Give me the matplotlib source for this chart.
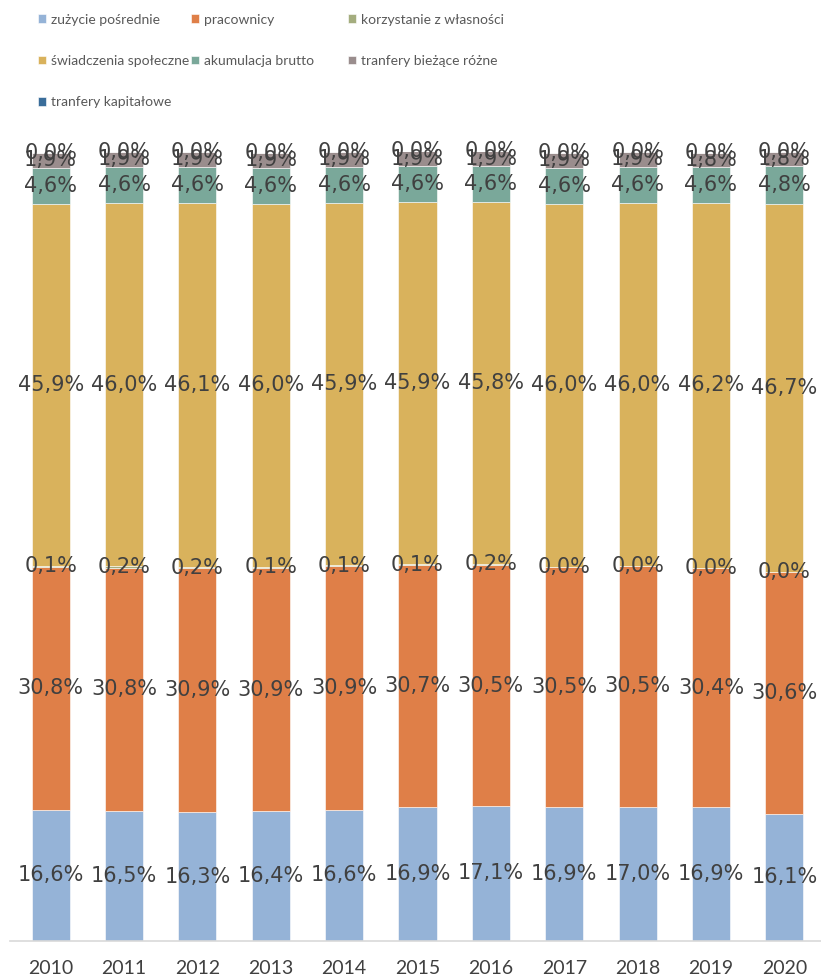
import matplotlib
matplotlib.use("Agg")
import matplotlib.pyplot as plt
import numpy as np

years = ["2010", "2011", "2012", "2013", "2014", "2015", "2016", "2017", "2018", "2019", "2020"]
series_names = ["zużycie pośrednie", "pracownicy", "korzystanie z własności",
                "świadczenia społeczne", "akumulacja brutto", "tranfery bieżące różne",
                "tranfery kapitałowe"]
zuzycie = [16.6, 16.5, 16.3, 16.4, 16.6, 16.9, 17.1, 16.9, 17.0, 16.9, 16.1]
pracownicy = [30.8, 30.8, 30.9, 30.9, 30.9, 30.7, 30.5, 30.5, 30.5, 30.4, 30.6]
korzystanie = [0.1, 0.2, 0.2, 0.1, 0.1, 0.1, 0.2, 0.0, 0.0, 0.0, 0.0]
swiadczenia = [45.9, 46.0, 46.1, 46.0, 45.9, 45.9, 45.8, 46.0, 46.0, 46.2, 46.7]
akumulacja = [4.6, 4.6, 4.6, 4.6, 4.6, 4.6, 4.6, 4.6, 4.6, 4.6, 4.8]
biezace = [1.9, 1.9, 1.9, 1.9, 1.9, 1.9, 1.9, 1.9, 1.9, 1.8, 1.8]
kapitalowe = [0.0, 0.0, 0.0, 0.0, 0.0, 0.0, 0.0, 0.0, 0.0, 0.0, 0.0]
colors = ["#95B3D7", "#DF7F48", "#A4AD7E", "#D9B25C", "#7AA89A", "#9A8D8D", "#3A6D9A"]

all_series = [zuzycie, pracownicy, korzystanie, swiadczenia, akumulacja, biezace, kapitalowe]

plt.rcParams['font.family'] = ['Lato', 'DejaVu Sans']
fig = plt.figure(figsize=(8.21, 9.8), dpi=100)
ax = fig.add_axes([0.017, 0.04, 0.983, 0.805])

x = np.arange(len(years))
bottom = np.zeros(len(years))
handles = []
for name, vals, c in zip(series_names, all_series, colors):
    v = np.array(vals)
    b = ax.bar(x, v, 0.52, bottom=bottom, color=c, edgecolor="white", linewidth=0.4, label=name)
    handles.append(b)
    for xi, (bi, vi) in enumerate(zip(bottom, v)):
        ax.text(xi, bi + vi / 2, f"{vi:.1f}%".replace(".", ","), ha="center", va="center",
                fontsize=15, color="#404040", family=["DejaVu Sans"])
    bottom += v

ax.set_xlim(-0.5, len(years) - 0.5)
ax.set_ylim(0, 100)
ax.set_xticks(x)
ax.set_xticklabels(years, fontsize=14, color="#404040")
ax.tick_params(axis="x", length=0, pad=14)
ax.set_yticks([])
for s in ["top", "right", "left"]:
    ax.spines[s].set_visible(False)
ax.spines["bottom"].set_color("#D9D9D9")
ax.spines["bottom"].set_linewidth(1.2)
ax.spines["bottom"].set_bounds(-0.55, len(years) - 0.5)

# legend laid out row-wise in 3 columns
W, H = 821.0, 980.0
col_x = [28, 181, 338]
for ci in range(3):
    idx = list(range(ci, len(series_names), 3))
    fig.legend(handles=[handles[i] for i in idx], labels=[series_names[i] for i in idx],
               loc="upper left", bbox_to_anchor=(col_x[ci] / W, 1 - 4 / H),
               frameon=False, fontsize=10, labelcolor="#595959",
               handlelength=0.6, handleheight=0.6, handletextpad=0.35,
               labelspacing=2.1, borderpad=0.2)

fig.savefig("out.png", dpi=100)
